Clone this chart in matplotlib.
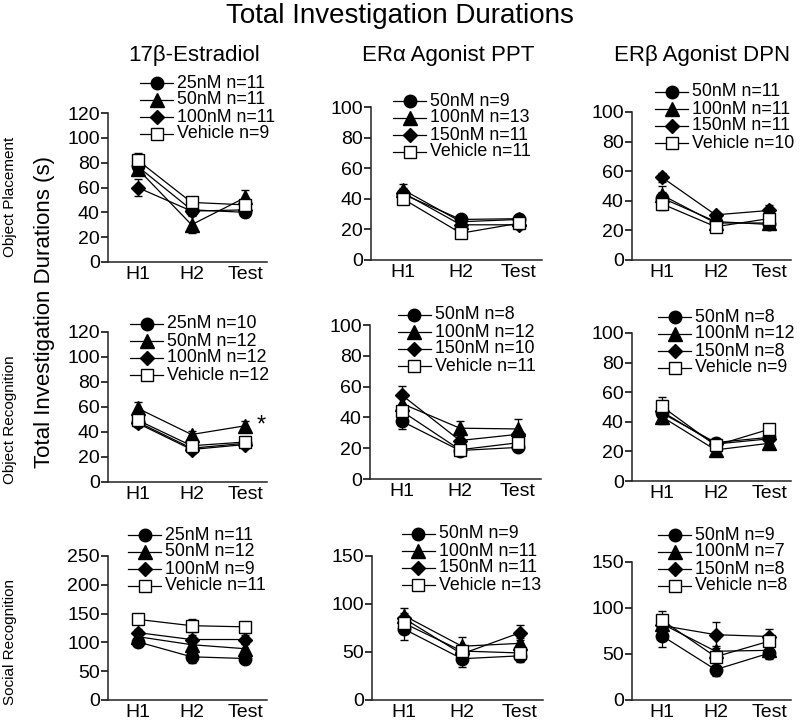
import matplotlib.pyplot as plt
from matplotlib.lines import Line2D

plt.rcParams['font.family'] = ['Liberation Sans', 'DejaVu Sans']

# ---------- data (means and SEM, order: circle, triangle, diamond, square) ---------- #
sessions = ["H1", "H2", "Test"]

op_e2_labels = ["25nM n=11", "50nM n=11", "100nM n=11", "Vehicle n=9"]
op_e2_mean = [[77, 42, 40], [75, 30, 52], [60, 41, 42], [82, 48, 46]]
op_e2_sem = [[5, 3, 4], [5, 7, 6], [7, 3, 3], [6, 3, 4]]

op_ppt_labels = ["50nM n=9", "100nM n=13", "150nM n=11", "Vehicle n=11"]
op_ppt_mean = [[43, 26.5, 27], [46, 25, 26.5], [44, 23, 23], [40, 17.5, 24]]
op_ppt_sem = [[3, 2, 2], [4, 2, 2], [3, 2, 3], [3, 2, 2]]

op_dpn_labels = ["50nM n=11", "100nM n=11", "150nM n=11", "Vehicle n=10"]
op_dpn_mean = [[42, 26, 24], [44, 25, 25], [56, 30.5, 33.5], [38, 22.5, 28]]
op_dpn_sem = [[4, 2, 3], [6, 2, 2], [3, 2, 4], [4, 2, 3]]

or_e2_labels = ["25nM n=10", "50nM n=12", "100nM n=12", "Vehicle n=12"]
or_e2_mean = [[48, 27, 31], [59, 38, 45], [47, 26, 30], [49.5, 29, 32]]
or_e2_sem = [[3, 2, 2], [5, 3, 3.5], [3, 2, 2], [4, 2, 2]]

or_ppt_labels = ["50nM n=8", "100nM n=12", "150nM n=10", "Vehicle n=11"]
or_ppt_mean = [[37.5, 18.5, 20.5], [49, 33, 32.5], [54.5, 25, 29], [44, 19, 23.5]]
or_ppt_sem = [[5, 2, 2], [5, 4.5, 6.5], [6, 3, 3], [5, 3, 3]]

or_dpn_labels = ["50nM n=8", "100nM n=12", "150nM n=8", "Vehicle n=9"]
or_dpn_mean = [[46, 26, 29.5], [43.5, 21, 25.5], [47, 25, 28.5], [50.5, 24, 35]]
or_dpn_sem = [[4, 3, 3], [5, 4, 3], [4, 3, 3], [6, 4, 3.5]]

sr_e2_labels = ["25nM n=11", "50nM n=12", "100nM n=9", "Vehicle n=11"]
sr_e2_mean = [[101, 75, 72], [110, 96, 89], [117, 105, 105], [140, 129, 127]]
sr_e2_sem = [[8, 10, 10], [6, 8, 8], [6, 8, 8], [5, 11, 8]]

sr_ppt_labels = ["50nM n=9", "100nM n=11", "150nM n=11", "Vehicle n=13"]
sr_ppt_mean = [[74, 43, 46], [88, 56, 59], [85, 48, 70], [80, 51, 49]]
sr_ppt_sem = [[12, 9, 6], [8, 10, 6], [6, 6, 8], [6, 6, 6]]

sr_dpn_labels = ["50nM n=9", "100nM n=7", "150nM n=8", "Vehicle n=8"]
sr_dpn_mean = [[70, 33, 51], [83, 53, 54], [81, 71, 69], [87, 47, 64]]
sr_dpn_sem = [[12, 7, 6], [6, 6, 6], [6, 14, 8], [10, 6, 8]]

# ---------- layout (pixels, top-left origin) ---------- #
W, H = 800, 722
fig = plt.figure(figsize=(W / 100, H / 100), dpi=100)


def fx(px):
    return px / W


def fy(py):
    return 1 - py / H


markers = ["o", "^", "D", "s"]
faces = ["black", "black", "black", "white"]
msizes = [9, 9.5, 7.5, 8.5]

# (means, sems, labels, left, right, top, bottom, ymax, ystep, key_x, key_y)
panels = [
    (op_e2_mean, op_e2_sem, op_e2_labels, 108, 267, 113, 262, 120, 20, 140, 83),
    (op_ppt_mean, op_ppt_sem, op_ppt_labels, 371, 542, 107, 260, 100, 20, 393, 101),
    (op_dpn_mean, op_dpn_sem, op_dpn_labels, 632, 791, 112, 260, 100, 20, 655, 92),
    (or_e2_mean, or_e2_sem, or_e2_labels, 108, 267, 332, 482, 120, 20, 130, 324),
    (or_ppt_mean, or_ppt_sem, or_ppt_labels, 370, 541, 325, 479, 100, 20, 398, 315),
    (or_dpn_mean, or_dpn_sem, or_dpn_labels, 632, 791, 333, 481, 100, 20, 658, 317),
    (sr_e2_mean, sr_e2_sem, sr_e2_labels, 108, 267, 556, 700, 250, 50, 128, 535),
    (sr_ppt_mean, sr_ppt_sem, sr_ppt_labels, 372, 543, 556, 700, 150, 50, 402, 534),
    (sr_dpn_mean, sr_dpn_sem, sr_dpn_labels, 632, 791, 562, 700, 150, 50, 658, 535),
]

x = range(len(sessions))
axes = []
for means, sems, labels, l, r, t, b, ymax, ystep, kx, ky in panels:
    ax = fig.add_axes([fx(l), fy(b), (r - l) / W, (b - t) / H])
    axes.append(ax)
    for i in range(4):
        cont = ax.errorbar(x, means[i], yerr=sems[i], color="black", lw=0.9,
                           marker=markers[i], ms=msizes[i], mfc=faces[i],
                           mec="black", mew=1.0, capsize=3, elinewidth=0.9,
                           capthick=0.9, zorder=3 + i)
        for art in cont.get_children():
            art.set_clip_on(False)
    ax.set_xlim(-0.55, 2.4)
    ax.set_ylim(0, ymax)
    ax.set_yticks(range(0, ymax + 1, ystep))
    ax.set_xticks(list(x))
    ax.set_xticklabels(sessions)
    for s in ["top", "right"]:
        ax.spines[s].set_visible(False)
    for s in ["left", "bottom"]:
        ax.spines[s].set_linewidth(1.1)
        ax.spines[s].set_color("#222222")
    ax.tick_params(axis="y", labelsize=14, length=5, width=1.1, pad=1)
    ax.tick_params(axis="x", labelsize=14, length=0, pad=3)

    # key drawn by hand so rows sit tight like the original
    for i, lab in enumerate(labels):
        yy = fy(ky + 17 * i)
        fig.add_artist(Line2D([fx(kx), fx(kx + 33)], [yy, yy], color="black", lw=0.9))
        fig.add_artist(Line2D([fx(kx + 16.5)], [yy], marker=markers[i], ms=msizes[i],
                              mfc=faces[i], mec="black", mew=1.0, color="black"))
        fig.text(fx(kx + 37), yy, lab, ha="left", va="center", fontsize=12.8)

# significance star (object recognition, estradiol)
axes[3].text(2.3, 45, "*", ha="center", va="center", fontsize=17)

# ---------- titles and labels ---------- #
fig.text(0.5, fy(16), "Total Investigation Durations", ha="center", va="center", fontsize=20)
fig.text(fx(194), fy(56), "17β-Estradiol", ha="center", va="center", fontsize=16)
fig.text(fx(448), fy(56), "ERα Agonist PPT", ha="center", va="center", fontsize=16)
fig.text(fx(702), fy(56), "ERβ Agonist DPN", ha="center", va="center", fontsize=16)

fig.text(fx(45), fy(312), "Total Investigation Durations (s)", rotation=90,
         ha="center", va="center", fontsize=16)
fig.text(fx(10), fy(197), "Object Placement", rotation=90, ha="center", va="center", fontsize=11)
fig.text(fx(10), fy(420), "Object Recognition", rotation=90, ha="center", va="center", fontsize=11)
fig.text(fx(10), fy(642), "Social Recognition", rotation=90, ha="center", va="center", fontsize=11)

fig.savefig("out.png", dpi=100)
